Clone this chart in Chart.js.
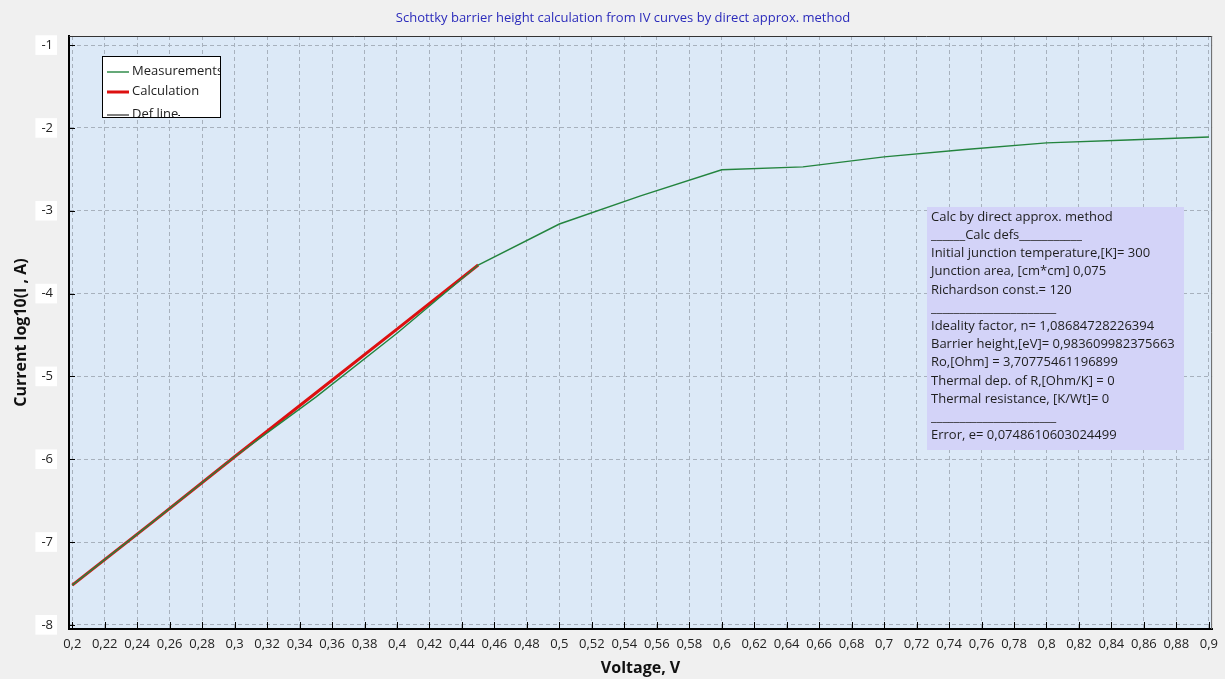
<!DOCTYPE html>
<html>
<head>
<meta charset="utf-8">
<script src="https://cdn.jsdelivr.net/npm/chart.js@4/dist/chart.umd.min.js"></script>
<style>
  html, body { margin: 0; padding: 0; background: #f0f0f0; }
  #wrap { width: 1225px; height: 679px; position: relative; }
</style>
</head>
<body>
<div id="wrap"><canvas id="ivChart" width="1225" height="679"></canvas></div>
<script>
// data
const xTicks = [0.2, 0.22, 0.24, 0.26, 0.28, 0.3, 0.32, 0.34, 0.36, 0.38, 0.4, 0.42, 0.44, 0.46, 0.48, 0.5,
  0.52, 0.54, 0.56, 0.58, 0.6, 0.62, 0.64, 0.66, 0.68, 0.7, 0.72, 0.74, 0.76, 0.78, 0.8, 0.82, 0.84, 0.86, 0.88, 0.9];
const xTickLabels = ["0,2", "0,22", "0,24", "0,26", "0,28", "0,3", "0,32", "0,34", "0,36", "0,38", "0,4", "0,42",
  "0,44", "0,46", "0,48", "0,5", "0,52", "0,54", "0,56", "0,58", "0,6", "0,62", "0,64", "0,66", "0,68", "0,7",
  "0,72", "0,74", "0,76", "0,78", "0,8", "0,82", "0,84", "0,86", "0,88", "0,9"];
const yTicks = [-1, -2, -3, -4, -5, -6, -7, -8];

const measVoltage = [0.2, 0.25, 0.3, 0.35, 0.4, 0.45, 0.5, 0.55, 0.6, 0.65, 0.7, 0.75, 0.8, 0.85, 0.9];
const measLogI = [-7.52, -6.75, -5.97, -5.25, -4.48, -3.655, -3.16, -2.82, -2.505, -2.47, -2.35, -2.26, -2.18, -2.145, -2.11];

const calcVoltage = [0.2, 0.25, 0.3, 0.35, 0.4, 0.45];
const calcLogI = [-7.52, -6.75, -5.97, -5.2, -4.43, -3.655];

const defVoltage = [];
const defLogI = [];

const legendNames = ["Measurements", "Calculation", "Def line"];
const infoLines = [
  "Calc by direct approx. method",
  "______Calc defs___________",
  "Initial junction temperature,[K]= 300",
  "Junction area, [cm*cm] 0,075",
  "Richardson const.= 120",
  "______________________",
  "Ideality factor, n= 1,08684728226394",
  "Barrier height,[eV]= 0,983609982375663",
  "Ro,[Ohm] = 3,70775461196899",
  "Thermal dep. of R,[Ohm/K] = 0",
  "Thermal resistance, [K/Wt]= 0",
  "______________________",
  "Error, e= 0,0748610603024499"
];

const FONT = "'Open Sans', 'Noto Sans', sans-serif";
const toPoints = (xs, ys) => xs.map((x, i) => ({ x: x, y: ys[i] }));

// plot background, inner ticks, frame, legend, info box, title
const decorations = {
  id: "decorations",
  beforeDraw(chart) {
    const { ctx, chartArea: a } = chart;
    ctx.save();
    ctx.fillStyle = "#dce9f7";
    ctx.fillRect(a.left, a.top, a.right - a.left, a.bottom - a.top);
    ctx.restore();
  },
  afterDraw(chart) {
    const { ctx, chartArea: a } = chart;
    const xs = chart.scales.x, ys = chart.scales.y;
    ctx.save();

    // frame top / right
    ctx.strokeStyle = "#333";
    ctx.lineWidth = 1;
    ctx.beginPath();
    ctx.moveTo(a.left, a.top + 0.5);
    ctx.lineTo(a.right, a.top + 0.5);
    ctx.stroke();
    ctx.strokeStyle = "#666";
    ctx.beginPath();
    ctx.moveTo(a.right - 0.5, a.top);
    ctx.lineTo(a.right - 0.5, a.bottom);
    ctx.stroke();

    // ticks pointing into the plot
    ctx.strokeStyle = "#000";
    ctx.lineWidth = 1;
    ctx.beginPath();
    xTicks.forEach(v => {
      const px = Math.round(xs.getPixelForValue(v)) + 0.5;
      ctx.moveTo(px, a.bottom);
      ctx.lineTo(px, a.bottom - 7);
    });
    yTicks.forEach(v => {
      const py = Math.round(ys.getPixelForValue(v)) + 0.5;
      ctx.moveTo(a.left, py);
      ctx.lineTo(a.left + 6, py);
    });
    ctx.stroke();

    // legend box
    const lx = a.left + 33, ly = a.top + 20, lw = 119, lh = 62;
    ctx.fillStyle = "#ffffff";
    ctx.fillRect(lx, ly, lw, lh);
    ctx.save();
    ctx.beginPath();
    ctx.rect(lx, ly, lw, lh);
    ctx.clip();
    const sets = chart.data.datasets;
    ctx.font = "13px " + FONT;
    ctx.textBaseline = "middle";
    ctx.textAlign = "left";
    [16, 36, 59].forEach((dy, i) => {
      const ds = sets[i];
      ctx.strokeStyle = ds.borderColor;
      ctx.lineWidth = ds.borderWidth;
      ctx.beginPath();
      ctx.moveTo(lx + 5, ly + dy);
      ctx.lineTo(lx + 27, ly + dy);
      ctx.stroke();
      ctx.fillStyle = "#222";
      ctx.fillText(legendNames[i], lx + 30, ly + dy - 1);
    });
    // underline trailing the last entry
    const tw = ctx.measureText(legendNames[2]).width;
    ctx.strokeStyle = "#000";
    ctx.lineWidth = 1;
    ctx.beginPath();
    ctx.moveTo(lx + 30 + tw, ly + 59.5);
    ctx.lineTo(lx + 78, ly + 59.5);
    ctx.stroke();
    ctx.restore();
    ctx.strokeStyle = "#000";
    ctx.lineWidth = 1;
    ctx.strokeRect(lx + 0.5, ly + 0.5, lw - 1, lh - 1);

    // info box
    const bx = 927, by = 207, bw = 257, bh = 243;
    ctx.fillStyle = "#d3d3f8";
    ctx.fillRect(bx, by, bw, bh);
    ctx.fillStyle = "#1e1e1e";
    ctx.font = "13px " + FONT;
    ctx.textBaseline = "middle";
    ctx.textAlign = "left";
    infoLines.forEach((t, i) => {
      ctx.fillText(t, bx + 4, 217 + i * 18.2);
    });

    // title
    ctx.fillStyle = "#2b2bbb";
    ctx.font = "13px " + FONT;
    ctx.textAlign = "center";
    ctx.fillText("Schottky barrier height calculation from IV curves by direct approx. method", 623, 18);
    ctx.restore();
  }
};

new Chart(document.getElementById("ivChart"), {
  type: "scatter",
  data: {
    datasets: [
      {
        label: "Measurements",
        data: toPoints(measVoltage, measLogI),
        showLine: true,
        borderColor: "#23843e",
        borderWidth: 1.4,
        pointRadius: 0,
        tension: 0
      },
      {
        label: "Calculation",
        data: toPoints(calcVoltage, calcLogI),
        showLine: true,
        borderColor: "#dd1010",
        borderWidth: 3,
        pointRadius: 0,
        tension: 0
      },
      {
        label: "Def line",
        data: toPoints(defVoltage, defLogI),
        showLine: true,
        borderColor: "#000000",
        borderWidth: 1,
        pointRadius: 0
      }
    ]
  },
  options: {
    responsive: false,
    animation: false,
    devicePixelRatio: 1,
    layout: { padding: { top: 36, right: 7, left: 0, bottom: 0 } },
    plugins: {
      legend: { display: false },
      tooltip: { enabled: false }
    },
    scales: {
      x: {
        type: "linear",
        min: 0.198,
        max: 0.902,
        afterBuildTicks: s => { s.ticks = xTicks.map(v => ({ value: v })); },
        afterFit: s => { s.height = 50; },
        ticks: {
          autoSkip: false,
          maxRotation: 0,
          padding: 7,
          color: "#222",
          font: { family: FONT, size: 13 },
          callback: (v, i) => xTickLabels[i]
        },
        grid: { color: "#a7b1bd", lineWidth: 1, drawTicks: false },
        border: { color: "#000", width: 2, dash: [4, 3] },
        title: {
          display: true,
          text: "Voltage, V",
          color: "#111",
          font: { family: FONT, size: 16, weight: "bold" },
          padding: { top: 0, bottom: 1 }
        }
      },
      y: {
        min: -8.05,
        max: -0.89,
        afterBuildTicks: s => { s.ticks = yTicks.map(v => ({ value: v })); },
        afterFit: s => { s.width = 69; },
        ticks: {
          padding: 16,
          color: "#222",
          font: { family: FONT, size: 13 },
          showLabelBackdrop: true,
          backdropColor: "#ffffff",
          backdropPadding: { top: 2, bottom: 2, left: 6, right: 4 },
          callback: v => String(v)
        },
        grid: { color: "#a7b1bd", lineWidth: 1, drawTicks: false },
        border: { color: "#000", width: 2, dash: [4, 3] },
        title: {
          display: true,
          text: "Current log10(I , A)",
          color: "#111",
          font: { family: FONT, size: 16, weight: "bold" },
          padding: { top: 12, bottom: 0 }
        }
      }
    }
  },
  plugins: [decorations]
});
</script>
</body>
</html>
